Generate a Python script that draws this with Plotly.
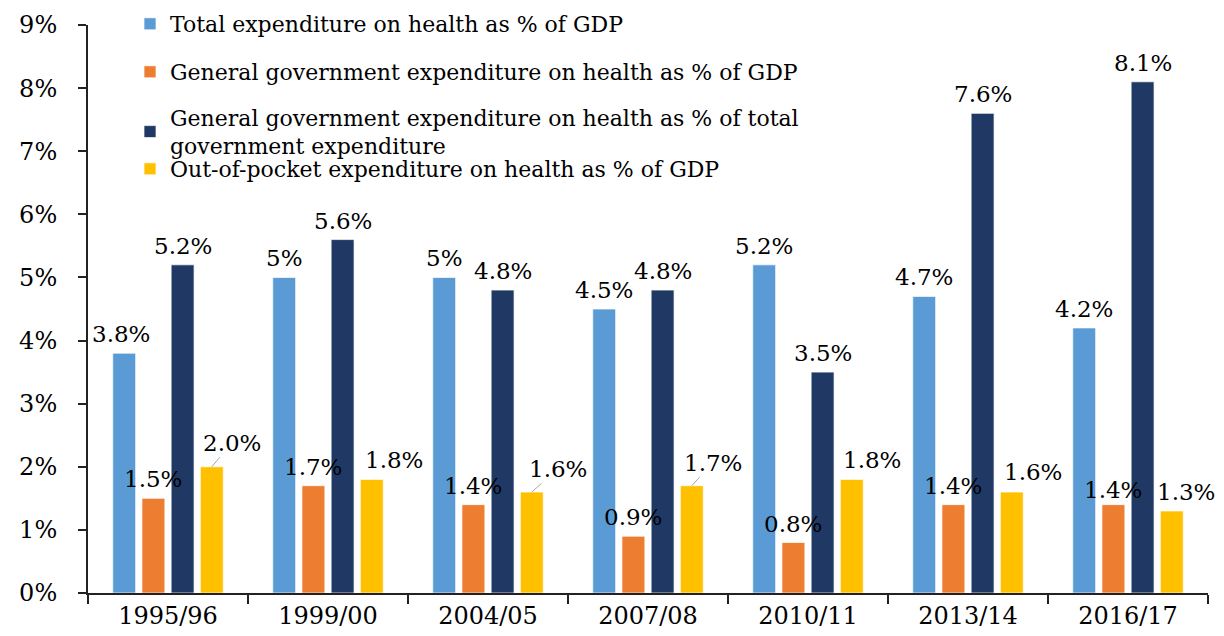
import plotly.graph_objects as go

categories = ["1995/96", "1999/00", "2004/05", "2007/08", "2010/11", "2013/14", "2016/17"]
total_gdp = [3.8, 5.0, 5.0, 4.5, 5.2, 4.7, 4.2]
gov_gdp = [1.5, 1.7, 1.4, 0.9, 0.8, 1.4, 1.4]
gov_total = [5.2, 5.6, 4.8, 4.8, 3.5, 7.6, 8.1]
oop_gdp = [2.0, 1.8, 1.6, 1.7, 1.8, 1.6, 1.3]

series_names = [
    "Total expenditure on health as % of GDP",
    "General government expenditure on health as % of GDP",
    "General government expenditure on health as % of total<br>government expenditure",
    "Out-of-pocket expenditure on health as % of GDP",
]
series_values = [total_gdp, gov_gdp, gov_total, oop_gdp]
series_colors = ["#5B9BD5", "#ED7D31", "#203864", "#FFC000"]
label_formats = ["{:g}%", "{:.1f}%", "{:.1f}%", "{:.1f}%"]

FONT = "DejaVu Serif"
# the page body adds an 8px offset, so the figure is slightly smaller than the window
W, H = 1216, 628
BARGAP = 0.27
BARGROUPGAP = 0.215
LABEL_SIZE = 23

# label placement tweaks (pixels): (series, category) -> (dx, dy, leader)
default_dy = 19
series_dx = [0, 0, 0, 21]
nudges = {
    (0, 0): (-3, 19, False),
    (3, 0): (20, 24, True),
    (3, 1): (22, 19, False),
    (3, 2): (26, 23, True),
    (3, 3): (21, 23, True),
    (3, 4): (20, 19, False),
    (3, 5): (21, 20, False),
    (3, 6): (14, 19, False),
    (1, 6): (0, 15, False),
}

fig = go.Figure()
legend_ids = ["legend", "legend2", "legend3", "legend4"]
for i, (name, vals, col) in enumerate(zip(series_names, series_values, series_colors)):
    fig.add_trace(go.Bar(
        x=categories, y=vals, name=name,
        marker=dict(color=col, line=dict(color="rgba(255,255,255,0.7)", width=1)),
        legend=legend_ids[i],
    ))

annotations = []
n = len(series_values)
slot = (1 - BARGAP) / n
for i, vals in enumerate(series_values):
    off = (i - (n - 1) / 2) * slot
    for j, v in enumerate(vals):
        dx, dy, leader = nudges.get((i, j), (series_dx[i], default_dy, False))
        txt = label_formats[i].format(v)
        if leader:
            annotations.append(dict(
                x=j + off, y=v, xref="x", yref="y", text=txt,
                showarrow=True, ax=dx, ay=-dy, arrowhead=0, arrowwidth=1,
                arrowcolor="#A6A6A6", standoff=0,
                font=dict(family=FONT, size=LABEL_SIZE, color="#000"),
            ))
        else:
            annotations.append(dict(
                x=j + off, y=v, xref="x", yref="y", text=txt,
                showarrow=False, xshift=dx, yshift=dy,
                xanchor="center", yanchor="middle",
                font=dict(family=FONT, size=LABEL_SIZE, color="#000"),
            ))

legend_centers = [16, 64, 124, 161]
legend_common = dict(
    xref="container", yref="container", x=122 / W, xanchor="left", yanchor="middle",
    bgcolor="rgba(0,0,0,0)", borderwidth=0, itemwidth=30,
    font=dict(family=FONT, size=22, color="#000"),
)
layout_legends = {}
for lid, ly in zip(legend_ids, legend_centers):
    layout_legends[lid] = dict(legend_common, y=1 - ly / H)

fig.update_layout(
    width=W, height=H,
    margin=dict(l=80, r=16, t=17, b=43, autoexpand=False),
    plot_bgcolor="white", paper_bgcolor="white",
    barmode="group", bargap=BARGAP, bargroupgap=BARGROUPGAP,
    showlegend=True,
    annotations=annotations,
    font=dict(family=FONT, color="#000"),
    xaxis=dict(
        type="category", range=[-0.5, 6.5], showline=True, linecolor="#222", linewidth=2,
        ticks="outside", tickson="boundaries", ticklen=9, tickwidth=2, tickcolor="#222",
        showgrid=False, tickangle=0, tickfont=dict(family=FONT, size=24, color="#000"),
    ),
    yaxis=dict(
        range=[0, 9], dtick=1, tick0=0, ticksuffix="%", showline=True, linecolor="#222",
        linewidth=2, ticks="outside", ticklen=8, tickwidth=2, tickcolor="#222",
        showgrid=False, zeroline=False, ticklabelstandoff=16,
        tickfont=dict(family=FONT, size=24, color="#000"),
    ),
    **layout_legends,
)

fig.write_html("out.html")
